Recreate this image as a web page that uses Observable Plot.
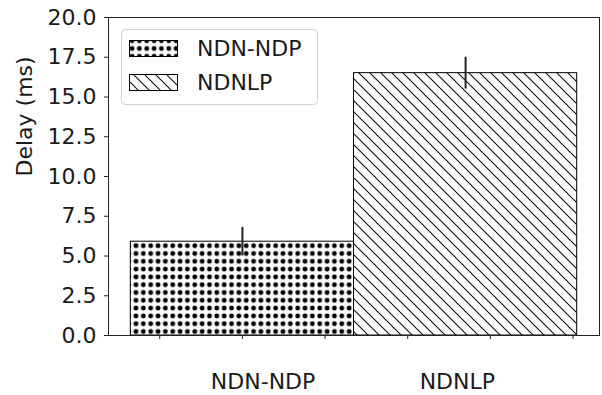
<!DOCTYPE html>
<html>
<head>
<meta charset="utf-8">
<script src="https://cdn.jsdelivr.net/npm/d3@7"></script>
<script src="https://cdn.jsdelivr.net/npm/@observablehq/plot@0.6"></script>
<style>
  html, body { margin: 0; padding: 0; background: #fff; }
</style>
</head>
<body>
<div id="chart"></div>
<script>
// ---- data ----
const categories = ["NDN-NDP", "NDNLP"];
const delays = [5.9, 16.5];
const errors = [0.9, 1.0];
const barX = [0, 0.27];          // bar centres (data units)
const barWidth = 0.27;
const labelX = [0.025, 0.26];    // category label positions (data units)
const yTicks = [0, 2.5, 5, 7.5, 10, 12.5, 15, 17.5, 20];
const xTicks = [-0.1, 0, 0.1, 0.2, 0.3, 0.4];
const patterns = ["hatch-dots", "hatch-diag"];

const data = categories.map((c, i) => ({
  category: c, delay: delays[i], err: errors[i],
  x: barX[i], x1: barX[i] - barWidth / 2, x2: barX[i] + barWidth / 2,
  pattern: patterns[i]
}));
const labels = categories.map((c, i) => ({category: c, x: labelX[i]}));

const FONT = "DejaVu Sans";

function defsMark() {
  const g = d3.create("svg:g");
  const defs = g.append("defs");
  const p1 = defs.append("pattern").attr("id", "hatch-dots")
    .attr("patternUnits", "userSpaceOnUse").attr("width", 7.35).attr("height", 7.8);
  p1.append("rect").attr("width", 7.35).attr("height", 7.8).attr("fill", "#fff");
  p1.append("circle").attr("cx", 3.67).attr("cy", 3.9).attr("r", 2.4).attr("fill", "#000");
  const s = 11;
  const p2 = defs.append("pattern").attr("id", "hatch-diag")
    .attr("patternUnits", "userSpaceOnUse").attr("width", s).attr("height", s);
  p2.append("rect").attr("width", s).attr("height", s).attr("fill", "#fff");
  p2.append("path")
    .attr("d", `M0,0L${s},${s}M-2,${s - 2}L2,${s + 2}M${s - 2},-2L${s + 2},2`)
    .attr("stroke", "#111").attr("stroke-width", 1.1).attr("fill", "none");
  return g.node();
}

function legendMark(index, scales, values, dims) {
  const g = d3.create("svg:g")
    .attr("transform", `translate(${dims.marginLeft + 13},${dims.marginTop + 12})`);
  g.append("rect").attr("x", 0.5).attr("y", 0.5).attr("width", 196).attr("height", 75)
    .attr("rx", 4).attr("fill", "#fff").attr("fill-opacity", 0.8)
    .attr("stroke", "#d0d0d0").attr("stroke-width", 1);
  categories.forEach((c, i) => {
    const y = 11 + i * 34;
    g.append("rect").attr("x", 8.5).attr("y", y + 0.5).attr("width", 48).attr("height", 16)
      .attr("fill", `url(#${patterns[i]})`).attr("stroke", "#000").attr("stroke-width", 1);
    g.append("text").attr("x", 76).attr("y", y + 16)
      .attr("text-anchor", "start")
      .attr("font-family", FONT).attr("font-size", 22).attr("fill", "#1a1a1a")
      .text(c);
  });
  return g.node();
}

const chart = Plot.plot({
  width: 602,
  height: 395,
  marginLeft: 108,
  marginRight: 3,
  marginTop: 17,
  marginBottom: 60,
  style: {fontFamily: FONT, fontSize: "22px", color: "#1a1a1a", background: "#fff"},
  x: {domain: [-0.162, 0.432]},
  y: {domain: [0, 20]},
  marks: [
    defsMark,
    ...data.map(d => Plot.rectY([d], {
      x1: "x1", x2: "x2", y: "delay",
      fill: `url(#${d.pattern})`, stroke: "#000", strokeWidth: 1
    })),
    Plot.ruleX(data, {x: "x", y1: d => d.delay - d.err, y2: d => d.delay + d.err,
      stroke: "#222", strokeWidth: 2}),
    Plot.frame({stroke: "#222", strokeWidth: 1}),
    Plot.axisY({ticks: yTicks, tickFormat: d3.format(".1f"), tickSize: 4, tickPadding: 8,
      label: null, stroke: "#222"}),
    Plot.axisX({ticks: xTicks, tickFormat: () => "", tickSize: 4, label: null, stroke: "#222"}),
    Plot.text(labels, {x: "x", y: () => 0, text: "category", dy: 46, lineAnchor: "middle",
      fontSize: 22, fill: "#1a1a1a", clip: false}),
    Plot.text(["Delay (ms)"], {frameAnchor: "left", rotate: -90, dx: -84, lineAnchor: "middle",
      fontSize: 22, fill: "#1a1a1a", text: d => d}),
    legendMark
  ]
});
document.getElementById("chart").appendChild(chart);
</script>
</body>
</html>
